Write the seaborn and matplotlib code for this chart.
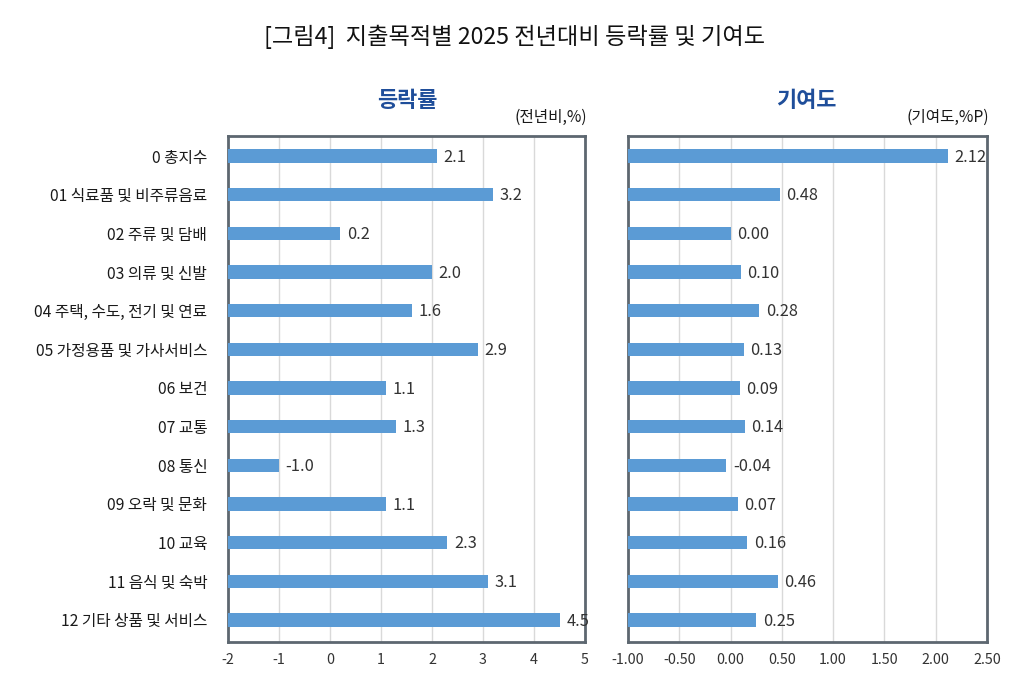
import numpy as np
import matplotlib
matplotlib.use('Agg')
import matplotlib.pyplot as plt
import seaborn as sns

# 데이터
categories = ['0 총지수', '01 식료품 및 비주류음료', '02 주류 및 담배', '03 의류 및 신발',
              '04 주택, 수도, 전기 및 연료', '05 가정용품 및 가사서비스', '06 보건', '07 교통',
              '08 통신', '09 오락 및 문화', '10 교육', '11 음식 및 숙박', '12 기타 상품 및 서비스']
rate = [2.1, 3.2, 0.2, 2.0, 1.6, 2.9, 1.1, 1.3, -1.0, 1.1, 2.3, 3.1, 4.5]
contrib = [2.12, 0.48, 0.00, 0.10, 0.28, 0.13, 0.09, 0.14, -0.04, 0.07, 0.16, 0.46, 0.25]

rate_ticks = [-2, -1, 0, 1, 2, 3, 4, 5]
contrib_ticks = [-1.0, -0.5, 0.0, 0.5, 1.0, 1.5, 2.0, 2.5]

sns.set_theme(style='white')
plt.rcParams['font.family'] = ['Noto Sans CJK KR', 'DejaVu Sans']
plt.rcParams['axes.unicode_minus'] = False

bar_color = '#5b9bd5'
spine_color = '#5d6770'
text_color = '#333333'

fig = plt.figure(figsize=(10.3, 7), dpi=100)
ax1 = fig.add_axes([0.2214, 0.0829, 0.3466, 0.7229])
ax2 = fig.add_axes([0.6097, 0.0829, 0.3485, 0.7229])

y = np.arange(len(categories))


def draw_panel(ax, values, ticks, fmt, offset):
    xmin, xmax = ticks[0], ticks[-1]
    # 엑셀처럼 막대를 축 최솟값에서 시작
    ax.barh(y, np.array(values) - xmin, left=xmin, height=0.34, color=bar_color,
            edgecolor='none', linewidth=0, zorder=3)
    for yi, v in zip(y, values):
        ax.text(v + offset, yi + 0.03, fmt.format(v), va='center', ha='left',
                fontsize=11.8, color=text_color, zorder=4)
    ax.set_xlim(xmin, xmax)
    ax.set_ylim(12.57, -0.52)
    ax.set_xticks(ticks)
    ax.xaxis.grid(True, color='#d9d9d9', linewidth=1, zorder=0)
    ax.yaxis.grid(False)
    for s in ax.spines.values():
        s.set_color(spine_color)
        s.set_linewidth(2)
    ax.tick_params(axis='x', length=0, pad=8, labelsize=10.3, labelcolor='#333333')


draw_panel(ax1, rate, rate_ticks, '{:.1f}', 0.13)
ax1.set_xticklabels([str(t) for t in rate_ticks])
ax1.set_yticks(y)
ax1.set_yticklabels(categories, fontsize=11.3, color='#1a1a1a', fontweight='medium')
ax1.tick_params(axis='y', length=0, pad=15)

draw_panel(ax2, contrib, contrib_ticks, '{:.2f}', 0.065)
ax2.set_xticklabels(['{:.2f}'.format(t) for t in contrib_ticks])
ax2.set_yticks([])

fig.text(0.5, 0.947, '[그림4]  지출목적별 2025 전년대비 등락률 및 기여도', ha='center', va='center',
         fontsize=16.7, color='#111111', fontweight='medium')
fig.text(0.395, 0.856, '등락률', ha='center', va='center', fontsize=15.8,
         fontweight='bold', color='#1f4e9a')
fig.text(0.7825, 0.856, '기여도', ha='center', va='center', fontsize=15.8,
         fontweight='bold', color='#1f4e9a')
fig.text(0.570, 0.833, '(전년비,%)', ha='right', va='center', fontsize=11.3,
         color='#1a1a1a', fontweight='medium')
fig.text(0.960, 0.833, '(기여도,%P)', ha='right', va='center', fontsize=11.3,
         color='#1a1a1a', fontweight='medium')

fig.savefig('out.png', dpi=100, facecolor='white')
